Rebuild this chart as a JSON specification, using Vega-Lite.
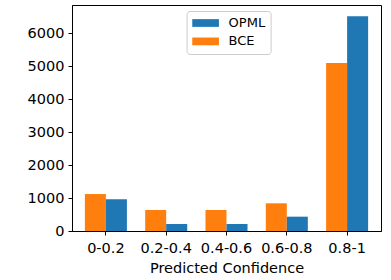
{
  "$schema": "https://vega.github.io/schema/vega-lite/v6.json",
  "width": 309,
  "height": 226,
  "padding": {"left": 27, "top": 5, "right": 9, "bottom": 2},
  "config": {
    "view": {"stroke": "black", "strokeWidth": 1},
    "font": "DejaVu Sans",
    "axis": {
      "labelFont": "DejaVu Sans",
      "titleFont": "DejaVu Sans",
      "labelFontSize": 14.5,
      "titleFontSize": 14.5,
      "titleFontWeight": "normal",
      "labelColor": "black",
      "titleColor": "black",
      "domainColor": "black",
      "tickColor": "black",
      "tickSize": 4,
      "labelPadding": 4,
      "grid": false
    }
  },
  "data": {
    "values": [
      {"bin": "0-0.2", "method": "BCE", "count": 1120},
      {"bin": "0-0.2", "method": "OPML", "count": 960},
      {"bin": "0.2-0.4", "method": "BCE", "count": 636},
      {"bin": "0.2-0.4", "method": "OPML", "count": 212},
      {"bin": "0.4-0.6", "method": "BCE", "count": 636},
      {"bin": "0.4-0.6", "method": "OPML", "count": 212},
      {"bin": "0.6-0.8", "method": "BCE", "count": 839},
      {"bin": "0.6-0.8", "method": "OPML", "count": 434},
      {"bin": "0.8-1", "method": "BCE", "count": 5090},
      {"bin": "0.8-1", "method": "OPML", "count": 6510}
    ]
  },
  "mark": {"type": "bar"},
  "encoding": {
    "x": {
      "field": "bin",
      "type": "nominal",
      "sort": ["0-0.2", "0.2-0.4", "0.4-0.6", "0.6-0.8", "0.8-1"],
      "scale": {"paddingInner": 0, "paddingOuter": 0.062},
      "axis": {"labelAngle": 0, "title": "Predicted Confidence", "titlePadding": 7, "labelPadding": 6}
    },
    "xOffset": {
      "field": "method",
      "type": "nominal",
      "sort": ["BCE", "OPML"],
      "scale": {"paddingInner": 0, "paddingOuter": 0.435}
    },
    "y": {
      "field": "count",
      "type": "quantitative",
      "scale": {"domain": [0, 6850], "nice": false},
      "axis": {"values": [0, 1000, 2000, 3000, 4000, 5000, 6000], "format": "d", "title": null}
    },
    "color": {
      "field": "method",
      "type": "nominal",
      "scale": {"domain": ["OPML", "BCE"], "range": ["#1f77b4", "#ff7f0e"]},
      "legend": {
        "title": null,
        "orient": "none",
        "legendX": 114.6,
        "legendY": 6,
        "symbolType": "M-2,-0.58H2V0.58H-2Z",
        "symbolSize": 178,
        "symbolStrokeWidth": 0,
        "symbolOffset": 7,
        "labelFontSize": 13,
        "labelFont": "DejaVu Sans",
        "labelColor": "black",
        "labelOffset": 16,
        "rowPadding": 4.4,
        "padding": 5,
        "strokeColor": "#cccccc",
        "fillColor": "white",
        "cornerRadius": 3
      }
    }
  }
}
